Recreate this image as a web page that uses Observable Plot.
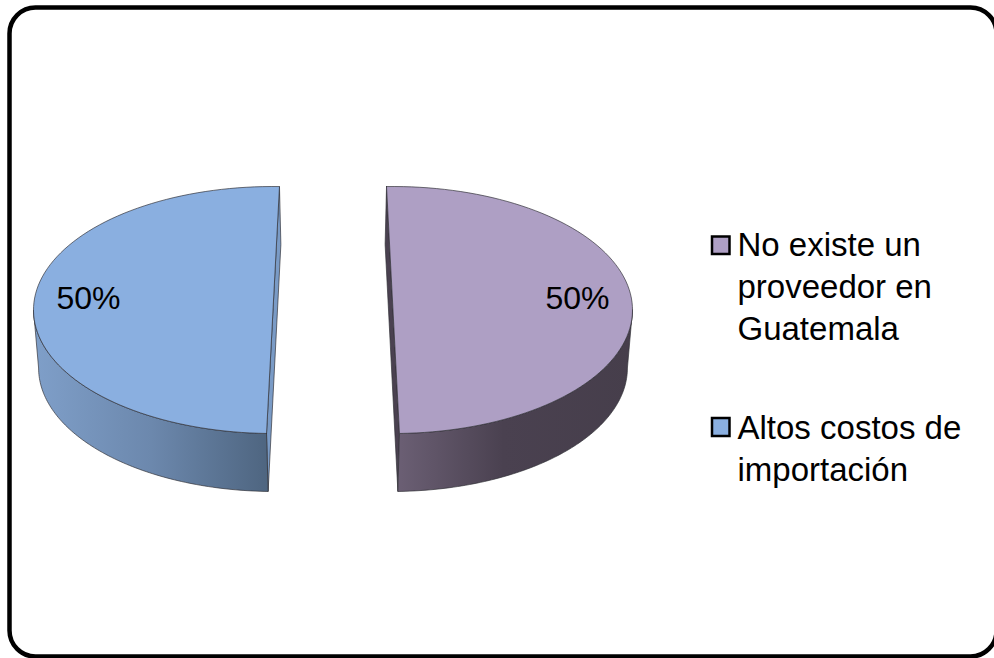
<!DOCTYPE html>
<html lang="es">
<head>
<meta charset="utf-8">
<title>Proveedores</title>
<style>
  html, body { margin: 0; padding: 0; background: #fff; overflow: hidden; }
  svg { display: block; }
</style>
<script src="https://cdn.jsdelivr.net/npm/d3@7"></script>
<script src="https://cdn.jsdelivr.net/npm/@observablehq/plot@0.6"></script>
</head>
<body>
<div id="chart"></div>
<script>
// Survey answers, in drawing order around the pie
const categories = ["No existe un proveedor en Guatemala", "Altos costos de importación"];
const shares = [50, 50];
const legendLines = ["No existe un\nproveedor en\nGuatemala", "Altos costos de\nimportación"];

// Slice appearance
const topColors = ["#ae9fc4", "#8aafe0"];
const cutColors = ["#4a4150", "#7a9bc6"];
const gradientIds = ["side-purple", "side-blue"];
const gradientStops = [
  [[0, "#6b5f74"], [0.45, "#4a4150"], [1, "#463e4b"]],
  [[0, "#7f9fc9"], [0.5, "#6c88ad"], [1, "#4e6580"]]
];

// Layout of the tilted pie, in pixels
const W = 994, H = 658;
const centerX = 332.5, centerY = 309.5;
const explode = [60, -60];      // horizontal pull of each slice away from the centre
const radiusX = 239.5, radiusY = 123.5;
const depth = 58;
const baseScale = 0.985;        // the lower rim is slightly narrower (perspective)
const baseShift = [-1.5, 1.5];  // and slides toward the middle
const rad = Math.PI / 180;
const cutSkew = [0, 3.1 * rad]; // each cut leans as its side of the view does

const slices = d3.pie().sort(null).startAngle(-1.55 * rad).endAngle(358.45 * rad)(shares)
  .map((s, i) => ({
    i,
    a0: s.startAngle + cutSkew[i],
    a1: s.endAngle + cutSkew[i],
    cx: centerX + explode[i]
  }));

// Points on the upper and lower rims of a slice
const upper = (s, t) => ({x: s.cx + radiusX * Math.sin(t), y: centerY - radiusY * Math.cos(t)});
const lower = (s, t) => ({
  x: s.cx + baseShift[s.i] + radiusX * baseScale * Math.sin(t),
  y: centerY + depth - radiusY * Math.cos(t)
});
const sweep = (a, b, n = 90) => d3.range(n + 1).map((k) => a + (b - a) * k / n);

const topFace = (s) => {
  const rim = sweep(s.a0, s.a1).map((t) => upper(s, t));
  return [...rim, rim[0]];
};
// Only the part of the outer wall that faces the viewer
const outerWall = (s) => {
  const front = s.i === 0 ? [Math.PI / 2, s.a1] : [s.a0, 3 * Math.PI / 2];
  const ts = sweep(front[0], front[1]);
  const ring = [...ts.map((t) => upper(s, t)), ...ts.slice().reverse().map((t) => lower(s, t))];
  return [...ring, ring[0]];
};
// The flat cut, seen as a thin sliver beside the top face
const cutWall = (s) => {
  const a = upper(s, s.a0), b = upper(s, s.a1);
  const c = lower(s, s.a1), d = lower(s, s.a0);
  return [a, b, c, d, a];
};

const edge = {stroke: "#2f3036", strokeWidth: 0.8, strokeOpacity: 0.85, curve: "linear"};

// Left-hand slice is painted first, as in the stacking of the chart
const paintOrder = [slices[1], slices[0]];
const sliceMarks = paintOrder.flatMap((s) => [
  Plot.line(cutWall(s), {x: "x", y: "y", fill: cutColors[s.i], ...edge}),
  Plot.line(outerWall(s), {x: "x", y: "y", fill: `url(#${gradientIds[s.i]})`, ...edge}),
  Plot.line(topFace(s), {x: "x", y: "y", fill: topColors[s.i], ...edge})
]);

// Side-wall shading, one gradient per slice
const gradients = () => {
  const defs = d3.create("svg:defs");
  gradientIds.forEach((id, i) => {
    const g = defs.append("linearGradient").attr("id", id);
    gradientStops[i].forEach(([o, c]) => g.append("stop").attr("offset", o).attr("stop-color", c));
  });
  return defs.node();
};

// Value labels and legend entries
const percentRows = shares.map((v, i) => ({
  text: `${v}%`,
  x: [545, 56][i],
  y: 308
}));
const legendRows = categories.map((c, i) => ({
  category: c,
  text: legendLines[i],
  fill: topColors[i],
  x1: 712, x2: 729.5,
  y1: [236.5, 418][i], y2: [254, 436][i],
  tx: 737,
  ty: [339, 480][i]
}));

const font = {fontFamily: "'Liberation Sans', Arial, sans-serif", fill: "#000"};

const chart = Plot.plot({
  width: W,
  height: H,
  margin: 0,
  style: {background: "#fff", overflow: "visible"},
  x: {domain: [0, W], range: [0, W], axis: null},
  y: {domain: [0, H], range: [0, H], axis: null},
  marks: [
    gradients,
    Plot.frame({
      stroke: "#000", strokeWidth: 4.5, rx: 26, fill: "#fff",
      insetLeft: 9, insetTop: 7, insetRight: -2, insetBottom: 2
    }),
    ...sliceMarks,
    Plot.text(percentRows, {
      x: "x", y: "y", text: "text", textAnchor: "start", lineAnchor: "bottom",
      fontSize: 32, ...font
    }),
    Plot.rect(legendRows, {x1: "x1", x2: "x2", y1: "y1", y2: "y2", fill: "fill", stroke: "#000", strokeWidth: 2.5}),
    Plot.text(legendRows, {
      x: "tx", y: "ty", text: "text", textAnchor: "start", lineAnchor: "bottom",
      fontSize: 33, lineHeight: 1.26, ...font
    })
  ]
});

document.getElementById("chart").append(chart);
</script>
</body>
</html>
